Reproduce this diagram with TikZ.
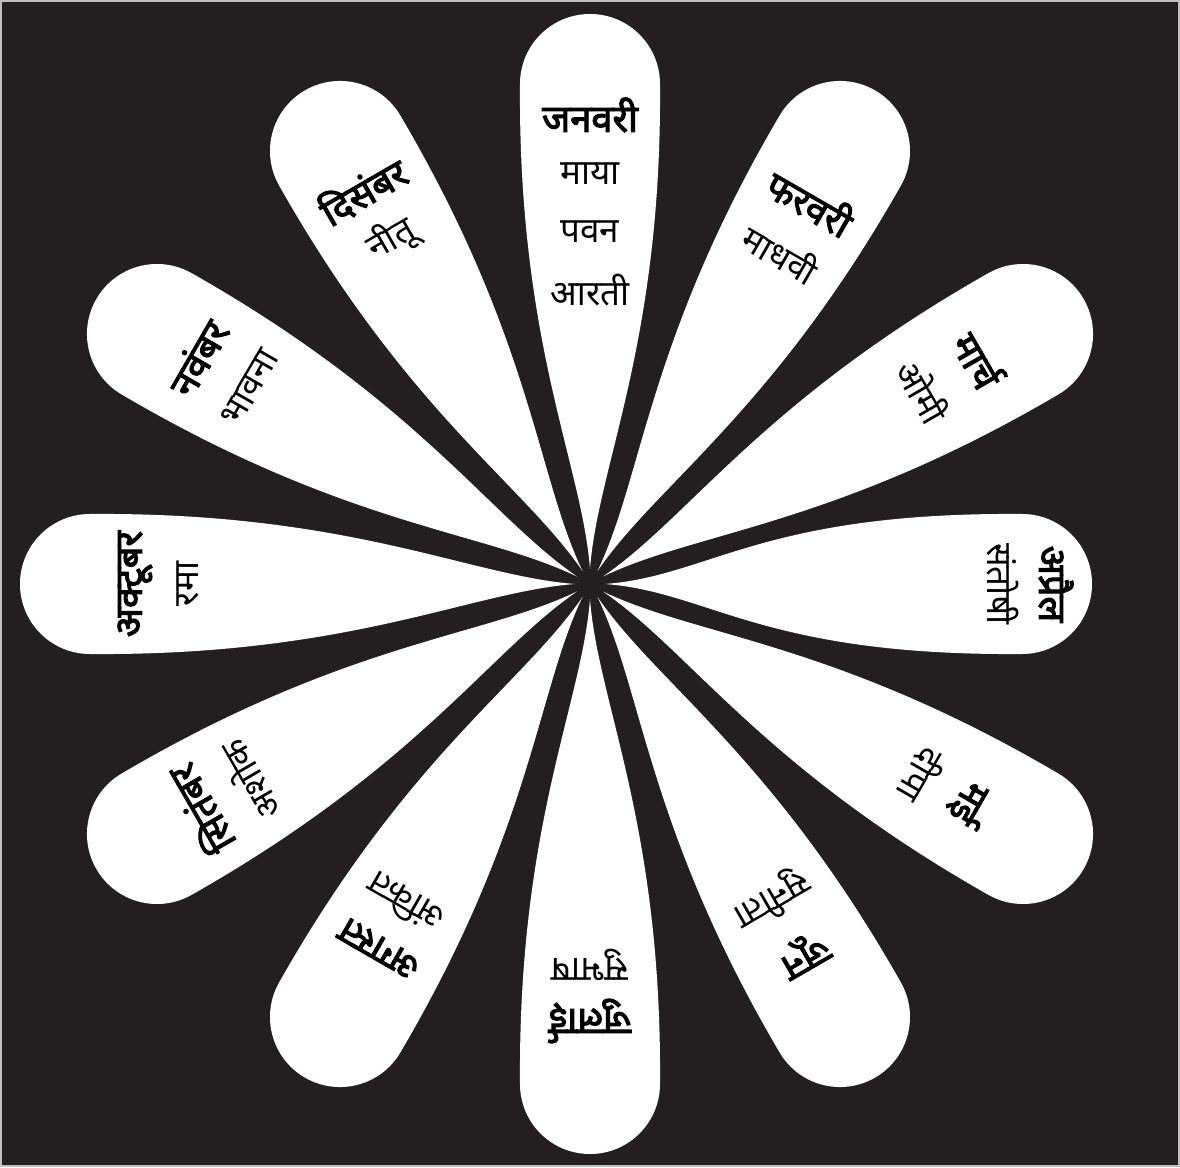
\documentclass[tikz,border=0pt]{standalone}
\usepackage{fontspec}
\newfontfamily\dev[Script=Devanagari]{Noto Sans}
\newfontfamily\devb[Script=Devanagari,FakeBold=3]{Noto Sans}
\definecolor{bg}{HTML}{231F20}
\begin{document}
\begin{tikzpicture}[x=1pt,y=1pt,
  month/.style={font=\devb\fontsize{38}{44}\selectfont, inner sep=0pt, text=black},
  pname/.style={font=\dev\fontsize{35}{40}\selectfont, inner sep=0pt, text=black},
  petalfill/.style={fill=white}]
\fill[bg] (-590,-583) rectangle (590,584);
\draw[gray!50, line width=2pt] (-589,-582) rectangle (589,583);
\foreach \a/\d in {90/500,60/500,30/500,0/432,-30/500,-60/500,-90/500,-120/500,-150/500,180/500,150/500,120/500}{
  \fill[petalfill, rotate=\a] (15,0) .. controls (120,8) and (\d-260,72) .. (\d,70)
     arc[start angle=90, end angle=-90, radius=70]
     .. controls (\d-260,-72) and (120,-8) .. (15,0);
}
% January
\node[month, rotate=0] (m1) at (90:469) {जनवरी};
\node[pname, rotate=0] (n1a) at (90:410) {माया};
\node[pname, rotate=0] (n1b) at (90:352) {पवन};
\node[pname, rotate=0] (n1c) at (90:294) {आरती};
% February
\node[month, rotate=-30] (m2) at (60:441) {फरवरी};
\node[pname, rotate=-30] (n2) at (60:382) {माधवी};
% March
\node[month, rotate=-60] (m3) at (30:449) {मार्च};
\node[pname, rotate=-60] (n3) at (30:385) {ओमी};
% April
\node[month, rotate=-90] (m4) at (0:466) {अप्रैल};
\node[pname, rotate=-90] (n4) at (0:413) {संतोषी};
% May
\node[month, rotate=-120] (m5) at (-30:439) {मई};
\node[pname, rotate=-120] (n5) at (-30:383) {दीपा};
% June
\node[month, rotate=-150] (m6) at (-60:427) {जून};
\node[pname, rotate=-150] (n6) at (-60:364) {सुनीता};
% July
\node[month, rotate=180] (m7) at (-90:437) {जुलाई};
\node[pname, rotate=180] (n7) at (-90:381) {सुभाष};
% August
\node[month, rotate=150] (m8) at (-120:421) {अगस्त};
\node[pname, rotate=150] (n8) at (-120:369) {अंकित};
% September
\node[month, rotate=120] (m9) at (-150:451) {सितंबर};
\node[pname, rotate=120] (n9) at (-150:394) {अशोक};
% October
\node[month, rotate=90] (m10) at (180:455) {अक्टूबर};
\node[pname, rotate=90] (n10) at (180:402) {रमा};
% November
\node[month, rotate=60] (m11) at (150:453) {नवंबर};
\node[pname, rotate=60] (n11) at (150:393) {भावना};
% December
\node[month, rotate=30] (m12) at (120:454) {दिसंबर};
\node[pname, rotate=30] (n12) at (120:398) {नीतू};
\end{tikzpicture}
\end{document}
